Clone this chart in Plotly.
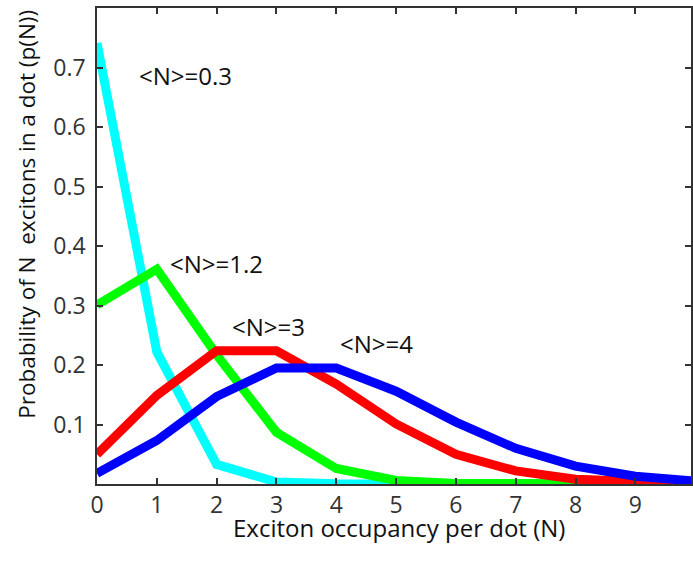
import plotly.graph_objects as go

N = [0, 1, 2, 3, 4, 5, 6, 7, 8, 9, 10]
p_03 = [0.741, 0.222, 0.033, 0.0033, 0.0003, 0.0, 0.0, 0.0, 0.0, 0.0, 0.0]
p_12 = [0.301, 0.361, 0.217, 0.087, 0.026, 0.006, 0.001, 0.0002, 0.0, 0.0, 0.0]
p_3 = [0.050, 0.149, 0.224, 0.224, 0.168, 0.101, 0.050, 0.022, 0.008, 0.003, 0.001]
p_4 = [0.018, 0.073, 0.147, 0.195, 0.195, 0.156, 0.104, 0.060, 0.030, 0.013, 0.005]

series = [("<N>=0.3", p_03, "#00FFFF"), ("<N>=1.2", p_12, "#00FF00"),
          ("<N>=3", p_3, "#FF0000"), ("<N>=4", p_4, "#0000FF")]
label_pos = [(0.667, 0.687), (1.183, 0.371), (2.217, 0.265), (4.033, 0.236)]

FONT = "Open Sans"
fig = go.Figure()
for name, vals, col in series:
    fig.add_trace(go.Scatter(x=N, y=vals, mode="lines", name=name,
                             line=dict(color=col, width=9)))

for (name, _, _), (lx, ly) in zip(series, label_pos):
    fig.add_annotation(x=lx, y=ly, xref="x", yref="y", text=name.replace("<", "&lt;").replace(">", "&gt;"),
                       showarrow=False, xanchor="left", yanchor="middle",
                       font=dict(family=FONT, size=24, color="#111111"))

fig.add_annotation(x=0.508, y=-0.092, xref="paper", yref="paper",
                   text="Exciton occupancy per dot (N)", showarrow=False,
                   xanchor="center", yanchor="middle",
                   font=dict(family=FONT, size=24, color="#111111"))
fig.add_annotation(x=-0.12, y=0.567, xref="paper", yref="paper",
                   text="Probability of N&nbsp; excitons in a dot (p(N))", showarrow=False,
                   textangle=-90, xanchor="center", yanchor="middle",
                   font=dict(family=FONT, size=22.5, color="#111111"))

axis_common = dict(showgrid=False, zeroline=False, showline=True, linecolor="#333333",
                   linewidth=1.5, mirror="ticks", ticks="inside", ticklen=6,
                   tickcolor="#333333", tickwidth=1.5,
                   tickfont=dict(family=FONT, size=23, color="#333333"))

fig.update_layout(
    width=693, height=564,
    margin=dict(l=97, r=0, t=8, b=80),
    plot_bgcolor="white", paper_bgcolor="white",
    showlegend=False,
    xaxis=dict(range=[0, 9.93], tickvals=list(range(10)), ticklabelstandoff=0, **axis_common),
    yaxis=dict(range=[0, 0.8], tickvals=[0.1, 0.2, 0.3, 0.4, 0.5, 0.6, 0.7],
               ticktext=["0.1", "0.2", "0.3", "0.4", "0.5", "0.6", "0.7"],
               ticklabelstandoff=5, **axis_common),
)

fig.write_html("out.html")
